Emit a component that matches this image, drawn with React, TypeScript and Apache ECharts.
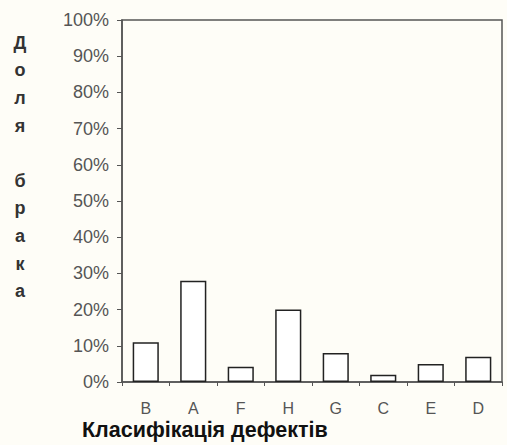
import React, { useEffect, useRef } from "react";
import * as echarts from "echarts";

const categories = ["B", "A", "F", "H", "G", "C", "E", "D"];
const defectShare = [11, 28, 4.2, 20, 8, 2, 5, 7];
const yTicks = [0, 10, 20, 30, 40, 50, 60, 70, 80, 90, 100];
const yTitle = ["Д", "о", "л", "я", "", "б", "р", "а", "к", "а"];
const xTitle = "Класифікація дефектів";

export default function App() {
  const ref = useRef<HTMLDivElement>(null);
  useEffect(() => {
    const chart = echarts.init(ref.current!, null, { renderer: "svg" });
    chart.setOption({
      animation: false,
      backgroundColor: "#fefdf7",
      grid: {
        left: 122,
        right: 5,
        top: 20,
        bottom: 63,
        show: true,
        borderColor: "#555",
        borderWidth: 1.5,
      },
      xAxis: {
        type: "category",
        data: categories,
        boundaryGap: true,
        axisLine: { lineStyle: { color: "#555", width: 1.5 } },
        axisTick: { show: true, inside: false, length: 4, lineStyle: { color: "#555" } },
        axisLabel: { color: "#555", fontFamily: "Arial, Liberation Sans", fontSize: 16, margin: 18 },
      },
      yAxis: {
        type: "value",
        min: 0,
        max: 100,
        interval: 10,
        splitLine: { show: false },
        axisLine: { show: true, lineStyle: { color: "#555", width: 1.5 } },
        axisTick: { show: true, length: 5, lineStyle: { color: "#555" } },
        axisLabel: {
          color: "#555",
          fontFamily: "Arial, Liberation Sans",
          fontSize: 18,
          margin: 13,
          formatter: (v: number) => (yTicks.includes(v) ? v + "%" : ""),
        },
      },
      graphic: [
        {
          type: "text",
          x: 20,
          y: 29,
          style: {
            text: yTitle.join("\n"),
            font: "bold 18px Arial, Liberation Sans",
            fill: "#333",
            lineHeight: 27.6,
            align: "center",
          },
        },
        {
          type: "text",
          x: 82,
          y: 419,
          style: {
            text: xTitle,
            font: "bold 21.5px Arial, Liberation Sans",
            fill: "#111",
          },
        },
      ],
      series: [
        {
          type: "bar",
          data: defectShare,
          barWidth: "55%",
          itemStyle: { color: "#ffffff", borderColor: "#222", borderWidth: 1.5 },
        },
      ],
    });
    return () => chart.dispose();
  }, []);
  return <div ref={ref} style={{ width: 507, height: 445, position: "absolute", left: 0, top: 0 }} />;
}
